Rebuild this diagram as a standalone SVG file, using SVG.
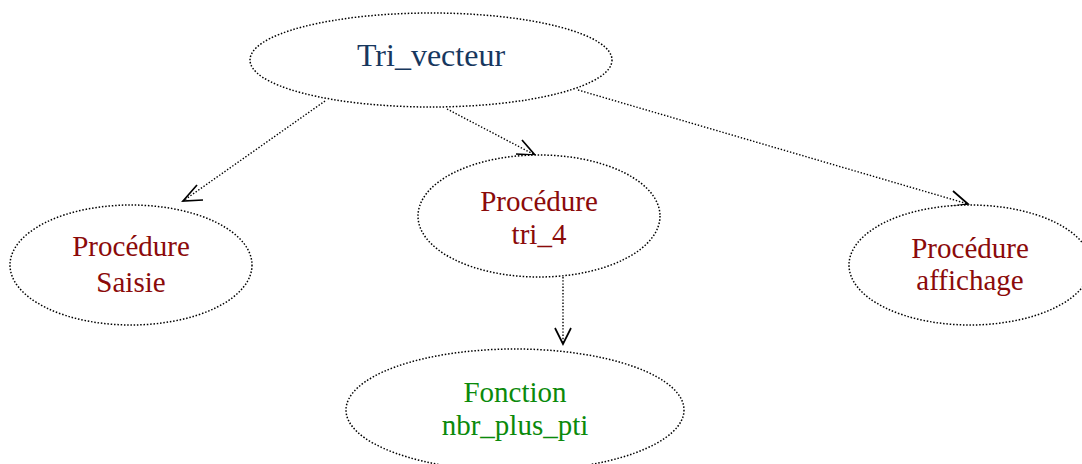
<svg xmlns="http://www.w3.org/2000/svg" width="1082" height="464" viewBox="0 0 1082 464">
<style>
.node{fill:#fff;stroke:#000;stroke-width:1.5;stroke-dasharray:1.5 1.8}
.edge{fill:none;stroke:#000;stroke-width:1.4;stroke-dasharray:1.4 1.8}
.head{fill:none;stroke:#000;stroke-width:1.7}
text{font-family:"Liberation Serif","Times New Roman",serif;text-anchor:middle}
.t0{fill:#17375E;font-size:32px}
.tp{fill:#8B0A0A;font-size:29px}
.tf{fill:#0B8A0B;font-size:29px}
</style>
<rect width="1082" height="464" fill="#fff"/>
<g id="connectors">
<path class="edge" d="M325,101 L183,201"/>
<path class="head" d="M197,185 L183,201 L203,200"/>
<path class="edge" d="M447,109 L535,155"/>
<path class="head" d="M516,154 L535,155 L522,140"/>
<path class="edge" d="M578,90 L968,204"/>
<path class="head" d="M948,207 L968,204 L953,191"/>
<path class="edge" d="M563,277 L563,344"/>
<path class="head" d="M555,328 L563,344 L571,328"/>
</g>
<g id="tri_vecteur">
<ellipse class="node" cx="431" cy="60" rx="181" ry="47"/>
<text class="t0" x="431" y="66">Tri_vecteur</text>
</g>
<g id="saisie">
<ellipse class="node" cx="131" cy="265" rx="121" ry="60"/>
<text class="tp" x="131" y="256">Procédure</text>
<text class="tp" x="131" y="292">Saisie</text>
</g>
<g id="tri_4">
<ellipse class="node" cx="539" cy="216" rx="121" ry="61"/>
<text class="tp" x="539" y="211">Procédure</text>
<text class="tp" x="539" y="244">tri_4</text>
</g>
<g id="affichage">
<ellipse class="node" cx="970" cy="265" rx="121" ry="60"/>
<text class="tp" x="970" y="258">Procédure</text>
<text class="tp" x="970" y="290">affichage</text>
</g>
<g id="nbr_plus_pti">
<ellipse class="node" cx="515" cy="410" rx="169" ry="61"/>
<text class="tf" x="515" y="402">Fonction</text>
<text class="tf" x="515" y="435">nbr_plus_pti</text>
</g>
</svg>
